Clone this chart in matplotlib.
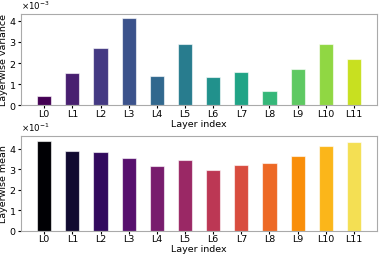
import numpy as np
import matplotlib
matplotlib.use("Agg")
import matplotlib.pyplot as plt
from matplotlib.ticker import MultipleLocator

layers = ["L%d" % i for i in range(12)]
variance = [0.43, 1.51, 2.73, 4.13, 1.38, 2.89, 1.34, 1.57, 0.68, 1.72, 2.89, 2.21]
mean = [4.38, 3.87, 3.85, 3.57, 3.17, 3.44, 2.95, 3.20, 3.30, 3.66, 4.15, 4.35]
variance_scaled = [v * 1e-3 for v in variance]
mean_scaled = [m * 1e-1 for m in mean]

plt.rcParams['font.size'] = 6.8

fig = plt.figure(figsize=(3.81, 2.54), dpi=100)
ax1 = fig.add_axes([0.055, 0.585, 0.935, 0.361])
ax2 = fig.add_axes([0.055, 0.091, 0.935, 0.372])

x = np.arange(len(layers))
for ax, vals, cmap, ylabel, step in [(ax1, variance_scaled, "viridis", "Layerwise variance", 1e-3),
                                     (ax2, mean_scaled, "inferno", "Layerwise mean", 1e-1)]:
    colors = plt.get_cmap(cmap)(np.arange(len(layers)) / 12)
    ax.bar(x, vals, width=0.5, color=colors, edgecolor=(1, 1, 1, 0.6), linewidth=0.8)
    ax.set_xticks(x)
    ax.set_xticklabels(layers)
    ax.yaxis.set_major_locator(MultipleLocator(step))
    ax.set_xlabel("Layer index", labelpad=0.5)
    ax.set_ylabel(ylabel, labelpad=0.5)
    ax.ticklabel_format(axis="y", style="sci", scilimits=(0, 0), useMathText=True)
    ax.yaxis.get_offset_text().set_fontsize(6.2)
    ax.tick_params(length=2, pad=1.2)
    for s in ax.spines.values():
        s.set_color("#aaaaaa")

fig.savefig("out.png", dpi=100)
